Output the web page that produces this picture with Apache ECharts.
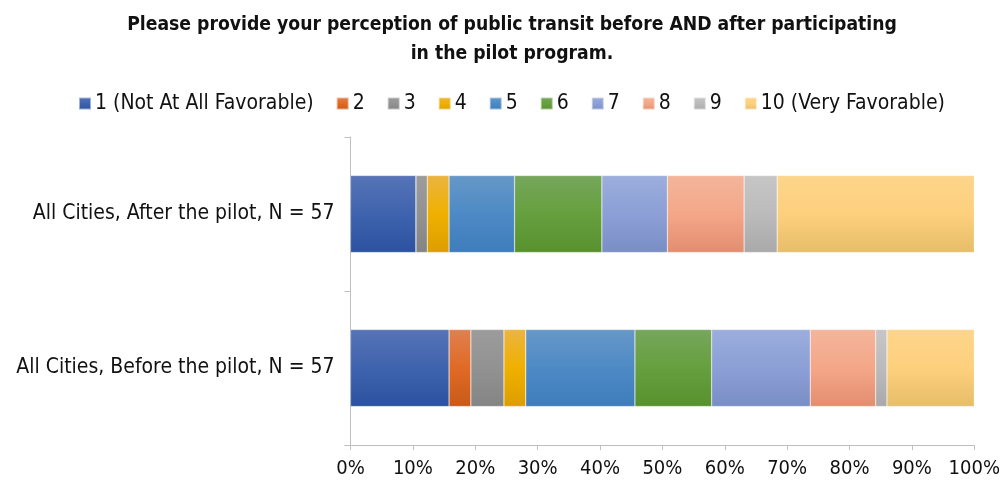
<!DOCTYPE html>
<html><head><meta charset="utf-8">
<script src="https://cdn.jsdelivr.net/npm/echarts@6/dist/echarts.min.js"></script>
<style>html,body{margin:0;padding:0;background:#fff}#c{width:1003px;height:485px}</style>
</head><body><div id="c"></div>
<script>
const categories = ['All Cities, Before the pilot, N = 57', 'All Cities, After the pilot, N = 57'];
const seriesNames = ['1 (Not At All Favorable)', '2', '3', '4', '5', '6', '7', '8', '9', '10 (Very Favorable)'];
// percent values per rating: [Before, After]
const r1 = [15.8, 10.5];
const r2 = [3.5, 0];
const r3 = [5.3, 1.8];
const r4 = [3.5, 3.5];
const r5 = [17.5, 10.5];
const r6 = [12.3, 14.0];
const r7 = [15.8, 10.5];
const r8 = [10.5, 12.3];
const r9 = [1.8, 5.3];
const r10 = [14.0, 31.6];
const xTicks = [0, 10, 20, 30, 40, 50, 60, 70, 80, 90, 100];

const allData = [r1, r2, r3, r4, r5, r6, r7, r8, r9, r10];
const grads = [
  ['#5674B6', '#3F63AE', '#2B52A0'],
  ['#E08050', '#E06A25', '#C85A18'],
  ['#9C9C9C', '#929292', '#848484'],
  ['#EBB440', '#F0B000', '#DC9E00'],
  ['#6698C8', '#4D8AC5', '#3E7CBB'],
  ['#76A65C', '#66A03E', '#58902E'],
  ['#9BAEDC', '#8C9FD6', '#7A8EC6'],
  ['#F3B59B', '#F4A788', '#E38D70'],
  ['#C6C6C6', '#BBBBBB', '#A9A9A9'],
  ['#FDD58B', '#FDD07D', '#E6BD6A']
];
function grad(g) {
  return new echarts.graphic.LinearGradient(0, 0, 0, 1, [
    {offset: 0, color: g[0]}, {offset: 0.5, color: g[1]}, {offset: 1, color: g[2]}
  ]);
}
const FONT = 'Liberation Sans Narrow, DejaVu Sans Condensed, Liberation Sans, sans-serif';
const series = seriesNames.map((n, i) => ({
  name: n, type: 'bar', stack: 'all', barWidth: '50%',
  data: allData[i],
  itemStyle: {color: grad(grads[i]), borderColor: 'rgba(255,255,255,0.5)', borderWidth: 0.5},
  emphasis: {disabled: true}
}));

const chart = echarts.init(document.getElementById('c'), null, {renderer: 'canvas'});
chart.setOption({
  animation: false,
  backgroundColor: '#fff',
  title: {
    text: 'Please provide your perception of public transit before AND after participating\nin the pilot program.',
    left: 507, textAlign: 'center', top: 6,
    textStyle: {fontFamily: FONT, fontWeight: 'bold', fontSize: 19.2, lineHeight: 28.5, color: '#111'}
  },
  legend: {
    data: seriesNames, top: 88, left: 73,
    itemWidth: 12, itemHeight: 12, itemGap: 22,
    icon: 'rect',
    textStyle: {fontFamily: FONT, fontSize: 21, color: '#111', padding: [0, 0, 0, -1]}
  },
  grid: {left: 350.5, right: 28.5, top: 137, bottom: 40, containLabel: false},
  xAxis: {
    type: 'value', min: 0, max: 100, interval: 10,
    axisLine: {show: true, lineStyle: {color: '#BFBFBF', width: 1}},
    axisTick: {show: true, length: 5, lineStyle: {color: '#BFBFBF'}},
    splitLine: {show: false},
    axisLabel: {formatter: '{value}%', fontFamily: FONT, fontSize: 20, color: '#111', margin: 14}
  },
  yAxis: {
    type: 'category', data: categories,
    axisLine: {show: true, lineStyle: {color: '#BFBFBF', width: 1}},
    axisTick: {show: true, length: 6, lineStyle: {color: '#BFBFBF'}},
    axisLabel: {fontFamily: FONT, fontSize: 21, color: '#111', margin: 16}
  },
  series: series
});
</script></body></html>
